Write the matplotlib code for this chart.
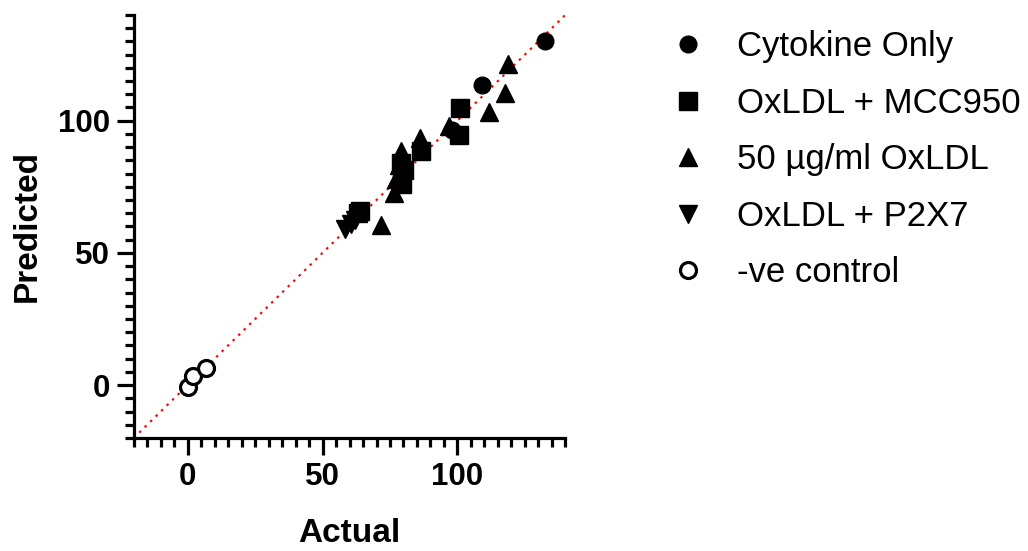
import matplotlib
matplotlib.use('Agg')
from matplotlib import pyplot as plt
from matplotlib.ticker import MultipleLocator

plt.rcParams['font.family'] = ['Liberation Sans', 'DejaVu Sans']

# actual vs predicted
cyto_x = [132.3, 109.1, 98.0]
cyto_y = [130.0, 113.3, 96.4]
mcc_x = [101.0, 100.4, 86.6, 80.1, 79.5, 79.0, 64.0, 63.0]
mcc_y = [104.7, 94.7, 88.4, 81.3, 76.0, 84.0, 66.0, 65.0]
oxldl_x = [118.6, 117.6, 111.6, 96.9, 86.1, 78.9, 78.3, 77.4, 76.4, 71.8]
oxldl_y = [121.3, 110.3, 103.3, 98.0, 93.3, 88.7, 83.3, 78.0, 72.7, 60.7]
p2x7_x = [58.5, 60.5, 62.0]
p2x7_y = [59.0, 61.0, 62.5]
neg_x = [0.0, 1.9, 6.8]
neg_y = [-0.7, 3.3, 6.3]

labels = ['Cytokine Only', 'OxLDL + MCC950', '50 µg/ml OxLDL', 'OxLDL + P2X7', '-ve control']
lims = [-20, 140]

fig = plt.figure(figsize=(10.28, 5.51), dpi=100, facecolor='w')
ax = fig.add_axes([0.130, 0.205, 0.420, 0.768])

ax.plot(lims, lims, color='red', linestyle=(0, (1.2, 2.5)), linewidth=1.5, zorder=1)

ax.plot(cyto_x, cyto_y, 'o', color='black', markersize=12, linestyle='none', label=labels[0])
ax.plot(mcc_x, mcc_y, 's', color='black', markersize=12.5, linestyle='none', label=labels[1])
ax.plot(oxldl_x, oxldl_y, '^', color='black', markersize=13, linestyle='none', label=labels[2])
ax.plot(p2x7_x, p2x7_y, 'v', color='black', markersize=13, linestyle='none', label=labels[3])
ax.plot(neg_x, neg_y, 'o', markerfacecolor='white', markeredgecolor='black', markeredgewidth=2.3,
        markersize=11.5, linestyle='none', label=labels[4])

ax.set_xlim(lims)
ax.set_ylim(lims)
for side in ['top', 'right']:
    ax.spines[side].set_visible(False)
for side in ['left', 'bottom']:
    ax.spines[side].set_linewidth(2.3)

ax.xaxis.set_major_locator(MultipleLocator(50))
ax.yaxis.set_major_locator(MultipleLocator(50))
ax.xaxis.set_minor_locator(MultipleLocator(5))
ax.yaxis.set_minor_locator(MultipleLocator(5))
ax.tick_params(which='major', length=12, width=2.3, labelsize=22.5, pad=5)
ax.tick_params(which='minor', length=6.5, width=2.3)
for lab in ax.get_xticklabels() + ax.get_yticklabels():
    lab.set_fontweight('bold')

ax.set_xlabel('Actual', fontsize=24, fontweight='bold', labelpad=19)
ax.set_ylabel('Predicted', fontsize=24, fontweight='bold', labelpad=11)

ax.legend(loc='upper left', bbox_to_anchor=(1.171, 1.038), frameon=False, fontsize=25,
          handletextpad=0.91, labelspacing=0.68, markerscale=1.0, handlelength=1.0)

plt.savefig('out.png', dpi=100)
